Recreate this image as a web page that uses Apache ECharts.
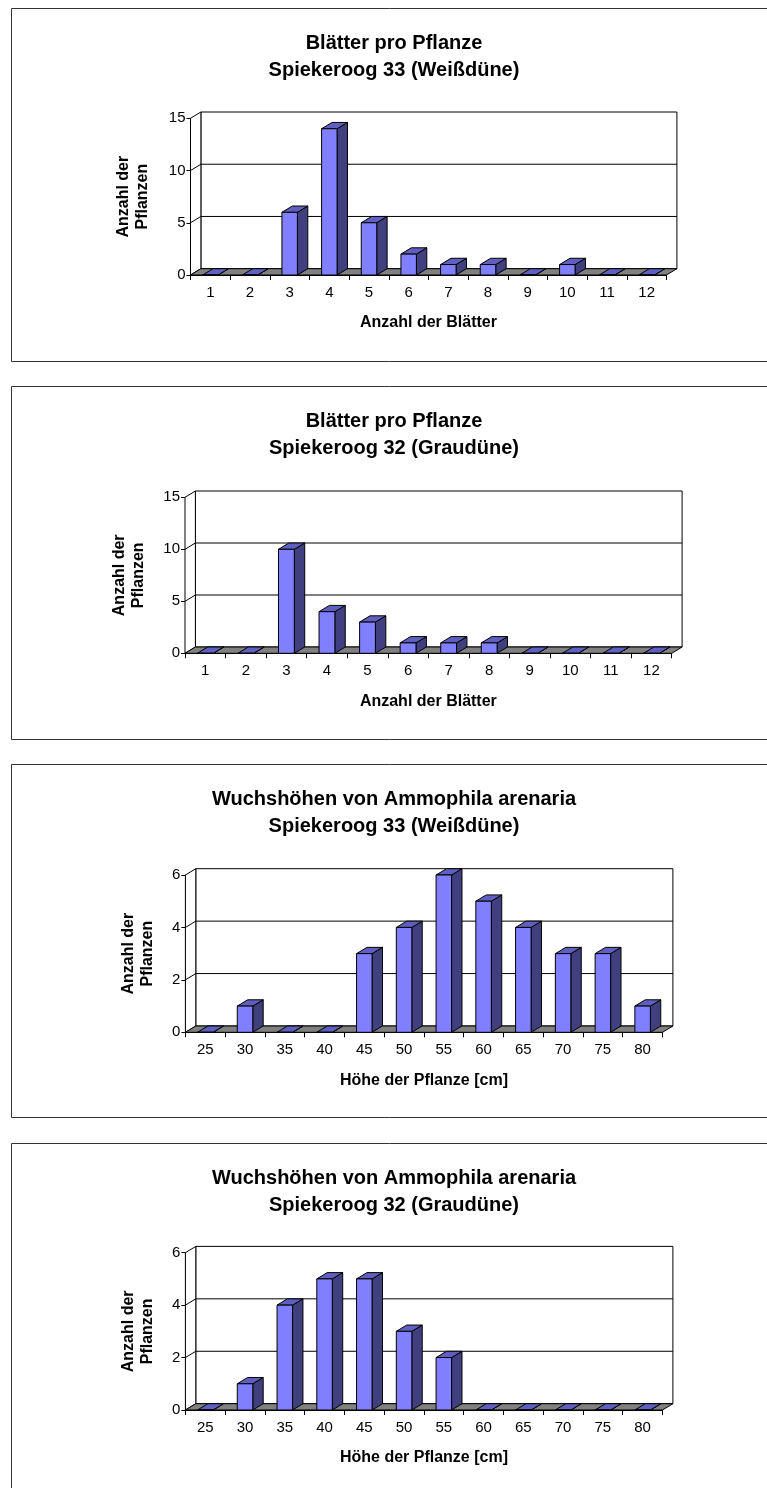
<!DOCTYPE html>
<html>
<head>
<meta charset="utf-8">
<script src="https://cdn.jsdelivr.net/npm/echarts@6/dist/echarts.min.js"></script>
<style>
  html, body { margin: 0; padding: 0; background: #fff; }
  #chart { width: 767px; height: 1488px; }
</style>
</head>
<body>
<div id="chart"></div>
<script>
// ---- data -------------------------------------------------------------
const leafCategories = ['1', '2', '3', '4', '5', '6', '7', '8', '9', '10', '11', '12'];
const heightCategories = ['25', '30', '35', '40', '45', '50', '55', '60', '65', '70', '75', '80'];

// number of plants per leaf count
const leavesWhiteDune = [0, 0, 6, 14, 5, 2, 1, 1, 0, 1, 0, 0];
const leavesGreyDune  = [0, 0, 10, 4, 3, 1, 1, 1, 0, 0, 0, 0];

// number of plants per height class (cm)
const heightsWhiteDune = [0, 1, 0, 0, 3, 4, 6, 5, 4, 3, 3, 1];
const heightsGreyDune  = [0, 1, 4, 5, 5, 3, 2, 0, 0, 0, 0, 0];

const titles = [
  'Blätter pro Pflanze\nSpiekeroog 33 (Weißdüne)',
  'Blätter pro Pflanze\nSpiekeroog 32 (Graudüne)',
  'Wuchshöhen von Ammophila arenaria\nSpiekeroog 33 (Weißdüne)',
  'Wuchshöhen von Ammophila arenaria\nSpiekeroog 32 (Graudüne)'
];
const leafAxisName = 'Anzahl der Blätter';
const heightAxisName = 'Höhe der Pflanze [cm]';
const countAxisName = 'Anzahl der\nPflanzen';

// ---- layout & style ---------------------------------------------------
const FONT = "'Liberation Sans', Arial, Helvetica, sans-serif";
const DX = 10.4, DY = -6.3;          // depth offset of the 3D columns
const BAR_RATIO = 0.39;
const FRONT = '#8080FF', TOP = '#5F5FBF', SIDE = '#40407F', FLOOR = '#808080';

const panels = [
  { title: titles[0], cats: leafCategories, values: leavesWhiteDune, yMax: 15, yStep: 5, xName: leafAxisName,
    box: 8, titleY: 56.7, grid: { left: 190.5, top: 118.3, width: 476, height: 156.7 }, yNameGap: 38.5 },
  { title: titles[1], cats: leafCategories, values: leavesGreyDune, yMax: 15, yStep: 5, xName: leafAxisName,
    box: 386, titleY: 435, grid: { left: 185, top: 497.3, width: 486.7, height: 156 }, yNameGap: 37 },
  { title: titles[2], cats: heightCategories, values: heightsWhiteDune, yMax: 6, yStep: 2, xName: heightAxisName,
    box: 764, titleY: 812.7, grid: { left: 185.4, top: 875, width: 477.1, height: 157.3 }, yNameGap: 28.5 },
  { title: titles[3], cats: heightCategories, values: heightsGreyDune, yMax: 6, yStep: 2, xName: heightAxisName,
    box: 1143, titleY: 1191.7, grid: { left: 185.4, top: 1252.7, width: 477.1, height: 157.3 }, yNameGap: 28.5 }
];

const line = { stroke: '#000', lineWidth: 1 };

// walls, floor and gridlines of one panel
function makeFrameRenderer(yMax, yStep) {
  return function (params, api) {
    const cs = params.coordSys;
    const L = cs.x, R = cs.x + cs.width, T = cs.y, B = cs.y + cs.height;
    const children = [
      { type: 'polygon', shape: { points: [[L + DX, T + DY], [R + DX, T + DY], [R + DX, B + DY], [L + DX, B + DY]] },
        style: Object.assign({ fill: '#fff' }, line) },
      { type: 'polygon', shape: { points: [[L, T], [L + DX, T + DY], [L + DX, B + DY], [L, B]] },
        style: Object.assign({ fill: '#fff' }, line) },
      { type: 'polygon', shape: { points: [[L, B], [R, B], [R + DX, B + DY], [L + DX, B + DY]] },
        style: Object.assign({ fill: FLOOR }, line) }
    ];
    for (let v = yStep; v < yMax; v += yStep) {
      const y = api.coord([0, v])[1];
      children.push({ type: 'polyline', shape: { points: [[L, y], [L + DX, y + DY], [R + DX, y + DY]] },
        style: Object.assign({ fill: null }, line) });
    }
    return { type: 'group', children: children };
  };
}

// one 3D column
function renderColumn(params, api) {
  const idx = api.value(0), v = api.value(1);
  const base = api.coord([idx, 0]);
  const top = api.coord([idx, v]);
  const w = api.size([1, 0])[0] * BAR_RATIO;
  const xl = base[0] - w / 2, xr = base[0] + w / 2, yb = base[1], yt = top[1];
  return {
    type: 'group',
    children: [
      { type: 'polygon', shape: { points: [[xr, yt], [xr + DX, yt + DY], [xr + DX, yb + DY], [xr, yb]] },
        style: Object.assign({ fill: SIDE }, line) },
      { type: 'polygon', shape: { points: [[xl, yt], [xr, yt], [xr + DX, yt + DY], [xl + DX, yt + DY]] },
        style: Object.assign({ fill: TOP }, line) },
      { type: 'rect', shape: { x: xl, y: yt, width: w, height: yb - yt },
        style: Object.assign({ fill: FRONT }, line) }
    ]
  };
}

const option = {
  backgroundColor: '#fff',
  animation: false,
  grid: [], xAxis: [], yAxis: [], series: [], graphic: []
};

panels.forEach(function (p, i) {
  option.grid.push(Object.assign({ containLabel: false, outerBoundsMode: 'none' }, p.grid));
  option.xAxis.push({
    type: 'category', gridIndex: i, data: p.cats,
    axisLine: { lineStyle: { color: '#000', width: 1 } },
    axisTick: { show: true, length: 5, lineStyle: { color: '#000' } },
    axisLabel: { fontSize: 15, color: '#000', fontFamily: FONT, margin: 10 },
    splitLine: { show: false },
    name: p.xName, nameLocation: 'middle', nameGap: 40,
    nameTextStyle: { fontSize: 16, fontWeight: 'bold', color: '#000', fontFamily: FONT }
  });
  option.yAxis.push({
    type: 'value', gridIndex: i, min: 0, max: p.yMax, interval: p.yStep,
    axisLine: { show: true, lineStyle: { color: '#000', width: 1 } },
    axisTick: { show: true, length: 4, lineStyle: { color: '#000' } },
    axisLabel: { fontSize: 15, color: '#000', fontFamily: FONT, margin: 5 },
    splitLine: { show: false },
    name: countAxisName, nameLocation: 'middle', nameRotate: 90, nameGap: p.yNameGap,
    nameTextStyle: { fontSize: 16, fontWeight: 'bold', color: '#000', fontFamily: FONT, lineHeight: 19 }
  });
  option.series.push({
    type: 'custom', xAxisIndex: i, yAxisIndex: i, z: 1, clip: false, silent: true,
    renderItem: makeFrameRenderer(p.yMax, p.yStep), data: [[0, 0]]
  });
  option.series.push({
    type: 'custom', xAxisIndex: i, yAxisIndex: i, z: 2, clip: false,
    renderItem: renderColumn,
    data: p.values.map(function (v, k) { return [k, v]; })
  });
  option.graphic.push({
    type: 'rect', z: 0, silent: true,
    shape: { x: 11.5, y: p.box + 0.5, width: 800, height: 353 },
    style: { fill: null, stroke: '#333', lineWidth: 1 }
  });
  option.graphic.push({
    type: 'text', z: 10, x: 394, y: p.titleY,
    style: {
      text: p.title, font: 'bold 20px ' + FONT, fill: '#000', lineHeight: 27,
      textAlign: 'center', textVerticalAlign: 'middle', align: 'center', verticalAlign: 'middle'
    }
  });
});

const chart = echarts.init(document.getElementById('chart'), null, { renderer: 'canvas' });
chart.setOption(option);
</script>
</body>
</html>
